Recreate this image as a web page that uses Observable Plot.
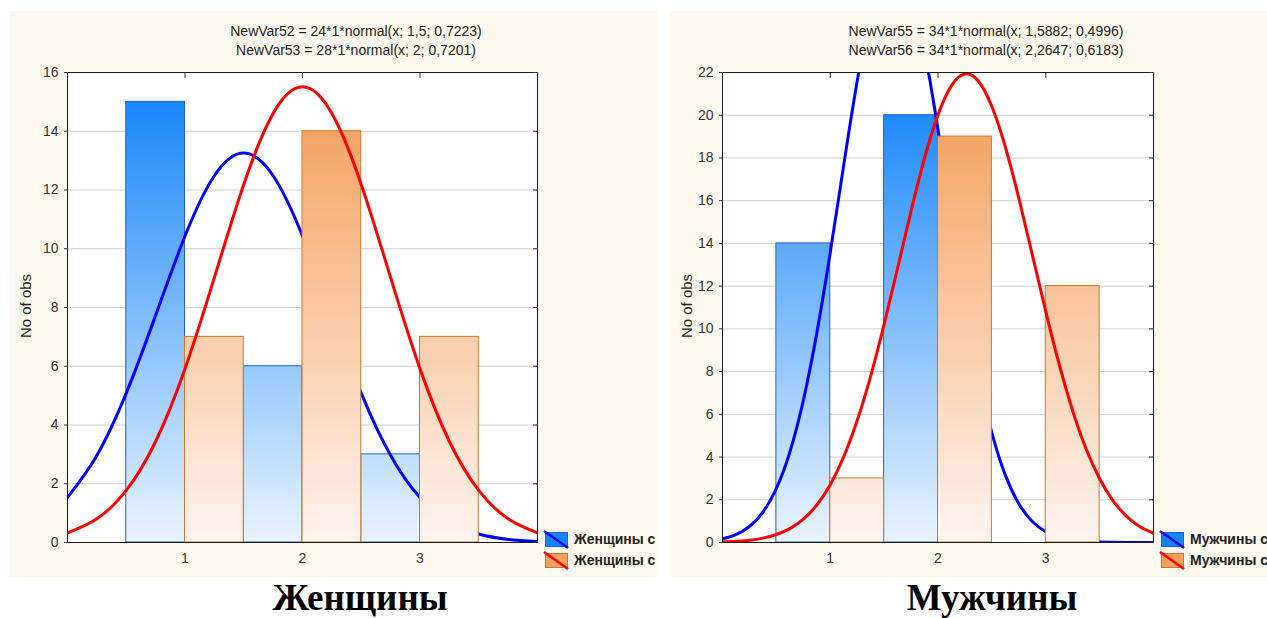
<!DOCTYPE html>
<html>
<head>
<meta charset="utf-8">
<script src="https://cdn.jsdelivr.net/npm/d3@7"></script>
<script src="https://cdn.jsdelivr.net/npm/@observablehq/plot@0.6"></script>
<style>
  html, body { margin: 0; padding: 0; background: #ffffff; }
  body { width: 1267px; height: 618px; position: relative; overflow: hidden; font-family: "Liberation Sans", Arial, sans-serif; }
  .panel { position: absolute; top: 11px; height: 566px; background: #fdf9ef; overflow: hidden; }
  .panel svg { position: absolute; left: 0; top: 0; }
  .title { position: absolute; font-size: 14px; line-height: 19px; color: #222; white-space: nowrap; text-align: center; transform: translateX(-50%); }
  .ylabel { position: absolute; font-size: 15px; color: #222; white-space: nowrap; transform: translate(-50%, -50%) rotate(-90deg); }
  .legend { position: absolute; font-size: 14px; font-weight: bold; color: #222; white-space: nowrap; }
  .legend .row { position: absolute; left: 0; height: 16px; }
  .legend .row span { position: absolute; left: 30px; top: -1px; line-height: 18px; }
  .caption { position: absolute; top: 578px; font-family: "Liberation Serif", "Times New Roman", serif; font-weight: bold; font-size: 37px; line-height: 40px; color: #000; white-space: nowrap; transform: translateX(-50%); }
</style>
</head>
<body>
<div id="women" class="panel" style="left:10px; width:647px;"></div>
<div id="men" class="panel" style="left:670px; width:597px;"></div>
<div class="caption" style="left:360px;">Женщины</div>
<div class="caption" style="left:992px;">Мужчины</div>
<script>
// ---------- data ----------
const xTickValues = [1, 2, 3];
const womenYTicks = [0, 2, 4, 6, 8, 10, 12, 14, 16];
const menYTicks = [0, 2, 4, 6, 8, 10, 12, 14, 16, 18, 20, 22];

const blueBinStart = [0.5, 1.5, 2.5];
const orangeBinStart = [1.0, 2.0, 3.0];
const binWidth = 0.5;

const womenBlueCounts = [15, 6, 3];
const womenOrangeCounts = [7, 14, 7];
const menBlueCounts = [14, 20, 0];
const menOrangeCounts = [3, 19, 12];

const womenTitle = ["NewVar52 = 24*1*normal(x; 1,5; 0,7223)", "NewVar53 = 28*1*normal(x; 2; 0,7201)"];
const menTitle = ["NewVar55 = 34*1*normal(x; 1,5882; 0,4996)", "NewVar56 = 34*1*normal(x; 2,2647; 0,6183)"];
const womenLegend = ["Женщины с", "Женщины с"];
const menLegend = ["Мужчины с", "Мужчины с"];
const yAxisLabel = "No of obs";

// fitted normal curves (values as drawn)
const curveXCoarse = [0, 0.25, 0.5, 0.75, 1, 1.25, 1.5, 1.75, 2, 2.25, 2.5, 2.75, 3, 3.25, 3.5, 3.75, 4];
const womenBlueCurve = [1.534, 2.965, 5.084, 7.732, 10.433, 12.486, 13.256, 12.486, 10.433, 7.732, 5.084, 2.965, 1.534, 0.704, 0.287, 0.104, 0.033];
const womenRedCurve = [0.328, 0.810, 1.772, 3.438, 5.914, 9.018, 12.190, 14.605, 15.512, 14.605, 12.190, 9.018, 5.914, 3.438, 1.772, 0.810, 0.328];

const curveXFine = [0, 0.125, 0.25, 0.375, 0.5, 0.625, 0.75, 0.875, 1, 1.125, 1.25, 1.375, 1.5, 1.625, 1.75, 1.875, 2, 2.125, 2.25, 2.375, 2.5, 2.625, 2.75, 2.875, 3, 3.125, 3.25, 3.375, 3.5, 3.625, 3.75, 3.875, 4];
const menBlueCurve = [0.174, 0.373, 0.751, 1.423, 2.533, 4.233, 6.646, 9.800, 13.576, 17.665, 21.590, 24.787, 26.730, 27.076, 25.763, 23.026, 19.329, 15.244, 11.291, 7.856, 5.135, 3.152, 1.818, 0.984, 0.501, 0.239, 0.108, 0.045, 0.018, 0.007, 0.002, 0.001, 0.000];
const menRedCurve = [0.027, 0.055, 0.109, 0.206, 0.374, 0.652, 1.091, 1.755, 2.708, 4.012, 5.707, 7.791, 10.210, 12.846, 15.513, 17.986, 20.017, 21.385, 21.932, 21.592, 20.406, 18.512, 16.122, 13.478, 10.817, 8.333, 6.163, 4.375, 2.982, 1.951, 1.225, 0.738, 0.427];

// ---------- styles ----------
const BLUE_TOP = "#0b80f7", BLUE_BOTTOM = "#eaf4fe", BLUE_EDGE = "#2262d8";
const ORANGE_TOP = "#f39a52", ORANGE_BOTTOM = "#fef5ef", ORANGE_EDGE = "#c8782e";
const LINE_BLUE = "#0000ff", LINE_RED = "#ff0000";

function bars(starts, counts) {
  return starts.map((s, i) => ({x1: s, x2: s + binWidth, count: counts[i]})).filter(d => d.count > 0);
}
function pts(xs, ys) { return xs.map((x, i) => ({x, y: ys[i]})); }

function buildPanel(el, cfg) {
  const W = cfg.width, H = 566;
  const gid = cfg.id;
  const defs = (index, scales, values, dims) => {
    const d = d3.create("svg:defs");
    const y1 = dims.marginTop, y2 = dims.height - dims.marginBottom;
    const mk = (id, top, bottom) => {
      const g = d.append("linearGradient").attr("id", id).attr("gradientUnits", "userSpaceOnUse")
        .attr("x1", 0).attr("x2", 0).attr("y1", y1).attr("y2", y2);
      g.append("stop").attr("offset", 0).attr("stop-color", top);
      g.append("stop").attr("offset", 1).attr("stop-color", bottom);
    };
    mk(gid + "-b", BLUE_TOP, BLUE_BOTTOM);
    mk(gid + "-o", ORANGE_TOP, ORANGE_BOTTOM);
    return d.node();
  };
  const chart = Plot.plot({
    width: W, height: H,
    marginTop: 61, marginBottom: 35, marginLeft: cfg.ml, marginRight: W - cfg.ml - cfg.pw,
    style: {background: "transparent", fontFamily: "'Liberation Sans', Arial, sans-serif", fontSize: "14px", color: "#333", overflow: "visible"},
    x: {domain: [0, 4]},
    y: {domain: [0, cfg.yTicks[cfg.yTicks.length - 1]]},
    marks: [
      defs,
      Plot.frame({fill: "white", stroke: "none"}),
      Plot.gridY(cfg.yTicks, {stroke: "#cfcfcf", strokeOpacity: 1, strokeWidth: 1}),
      Plot.rect(bars(blueBinStart, cfg.blue), {x1: "x1", x2: "x2", y1: 0, y2: "count", fill: `url(#${gid}-b)`, stroke: BLUE_EDGE, strokeWidth: 1}),
      Plot.line(pts(cfg.blueX, cfg.blueCurve), {x: "x", y: "y", stroke: LINE_BLUE, strokeWidth: 3, curve: "natural", clip: true}),
      Plot.rect(bars(orangeBinStart, cfg.orange), {x1: "x1", x2: "x2", y1: 0, y2: "count", fill: `url(#${gid}-o)`, stroke: ORANGE_EDGE, strokeWidth: 1}),
      Plot.line(pts(cfg.redX, cfg.redCurve), {x: "x", y: "y", stroke: LINE_RED, strokeWidth: 3, curve: "natural", clip: true}),
      Plot.frame({stroke: "#1a1a1a", strokeWidth: 1}),
      Plot.axisY({ticks: cfg.yTicks, tickSize: 3, tickPadding: 6, label: null, stroke: "#333", tickFormat: d => String(d)}),
      Plot.axisY({anchor: "right", ticks: cfg.yTicks, tickSize: -5, tickFormat: () => "", label: null}),
      Plot.axisX({anchor: "bottom", ticks: xTickValues, tickSize: 0, tickPadding: 11, label: null, tickFormat: d => String(d)}),
      Plot.axisX({anchor: "top", ticks: xTickValues, tickSize: -5, tickFormat: () => "", label: null})
    ]
  });
  el.appendChild(chart);

  const t = document.createElement("div");
  t.className = "title";
  t.style.left = cfg.titleX + "px";
  t.style.top = "11px";
  t.innerHTML = cfg.title.join("<br>");
  el.appendChild(t);

  const yl = document.createElement("div");
  yl.className = "ylabel";
  yl.style.left = cfg.ylabelX + "px";
  yl.style.top = "295px";
  yl.textContent = yAxisLabel;
  el.appendChild(yl);

  const lg = document.createElement("div");
  lg.className = "legend";
  lg.style.left = cfg.legendX + "px";
  lg.style.top = "520px";
  const sw = (fill, edge, line) =>
    `<svg width="26" height="17" style="position:absolute;left:0;top:0;overflow:visible">` +
    `<rect x="1.5" y="1.5" width="22" height="14" fill="${fill}" stroke="${edge}" stroke-width="1"/>` +
    `<line x1="0" y1="0" x2="24" y2="17" stroke="${line}" stroke-width="2.5"/></svg>`;
  lg.innerHTML =
    `<div class="row" style="top:0">${sw("#1786f5", BLUE_EDGE, LINE_BLUE)}<span>${cfg.legend[0]}</span></div>` +
    `<div class="row" style="top:21px">${sw("#f5a25c", ORANGE_EDGE, LINE_RED)}<span>${cfg.legend[1]}</span></div>`;
  el.appendChild(lg);
}

buildPanel(document.getElementById("women"), {
  id: "w", width: 647, ml: 57, pw: 470, yTicks: womenYTicks,
  blue: womenBlueCounts, orange: womenOrangeCounts,
  blueX: curveXCoarse, blueCurve: womenBlueCurve, redX: curveXCoarse, redCurve: womenRedCurve,
  title: womenTitle, titleX: 346, ylabelX: 15, legend: womenLegend, legendX: 534
});
buildPanel(document.getElementById("men"), {
  id: "m", width: 597, ml: 52, pw: 431, yTicks: menYTicks,
  blue: menBlueCounts, orange: menOrangeCounts,
  blueX: curveXFine, blueCurve: menBlueCurve, redX: curveXFine, redCurve: menRedCurve,
  title: menTitle, titleX: 316, ylabelX: 16, legend: menLegend, legendX: 490
});
</script>
</body>
</html>
